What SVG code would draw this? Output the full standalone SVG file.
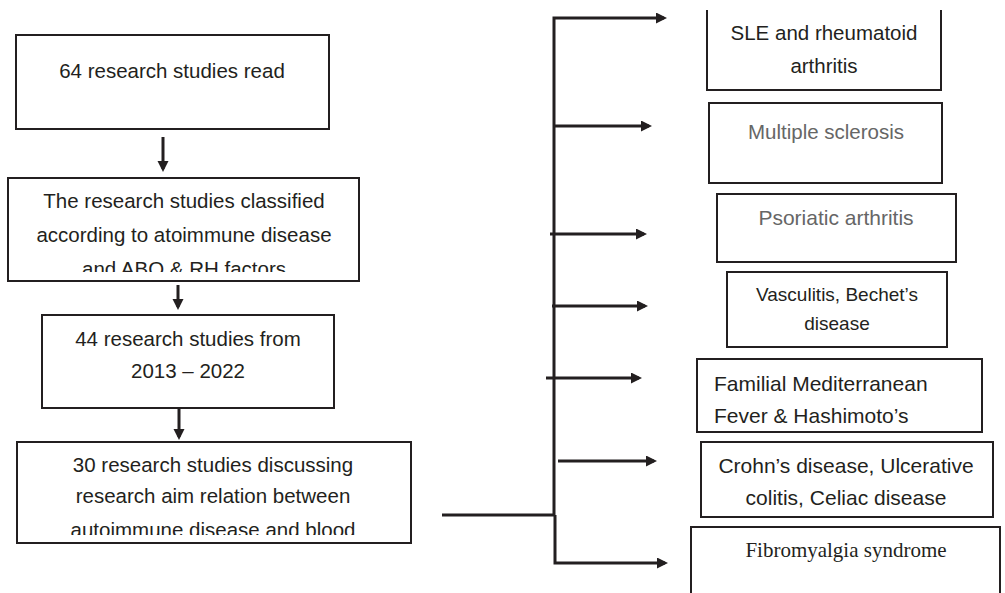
<svg xmlns="http://www.w3.org/2000/svg" width="1005" height="593" viewBox="0 0 1005 593">
<style>
.box{fill:none;stroke:#231f20;stroke-width:2}
.t{font-family:"Liberation Sans",Arial,sans-serif;font-size:20.5px;fill:#231f20}
.c{text-anchor:middle}
.g{fill:#666666}
.serif{font-family:"Liberation Serif","Times New Roman",serif;font-size:21px;fill:#231f20}
.ln{fill:none;stroke:#231f20;stroke-width:3}
.ar{fill:none;stroke:#231f20;stroke-width:3;marker-end:url(#ah)}
</style>
<defs>
<marker id="ah" markerUnits="userSpaceOnUse" markerWidth="12" markerHeight="12" viewBox="0 0 12 12" refX="8" refY="5.5" orient="auto">
<path d="M0,0 L11,5.5 L0,11 z" fill="#231f20"/>
</marker>
<clipPath id="c2"><rect x="0" y="170" width="400" height="102"/></clipPath>
<clipPath id="c4"><rect x="0" y="440" width="420" height="95"/></clipPath>
</defs>
<rect width="1005" height="593" fill="#ffffff"/>
<g id="connectors">
<line class="ar" x1="163" y1="137" x2="163" y2="169"/>
<line class="ar" x1="178" y1="285" x2="178" y2="307"/>
<line class="ar" x1="179" y1="408" x2="179" y2="437"/>
<polyline class="ln" points="442,515 555,515"/>
<polyline class="ar" points="554,515 554,18 664,18"/>
<line class="ar" x1="554" y1="126" x2="649" y2="126"/>
<line class="ar" x1="550" y1="234" x2="644" y2="234"/>
<line class="ar" x1="552" y1="306" x2="645" y2="306"/>
<line class="ar" x1="546" y1="378" x2="639" y2="378"/>
<line class="ar" x1="558" y1="461" x2="654" y2="461"/>
<polyline class="ar" points="555,515 555,563 665,563"/>
</g>
<g id="n1">
<rect class="box" x="16" y="35" width="313" height="94"/>
<text class="t c" x="172" y="78">64 research studies read</text>
</g>
<g id="n2">
<rect class="box" x="8" y="178" width="351" height="103"/>
<g clip-path="url(#c2)">
<text class="t c" x="184" y="208">The research studies classified</text>
<text class="t c" x="184" y="242">according to atoimmune disease</text>
<text class="t c" x="184" y="276">and ABO &amp; RH factors</text>
</g>
</g>
<g id="n3">
<rect class="box" x="42" y="315" width="292" height="93"/>
<text class="t c" x="188" y="346">44 research studies from</text>
<text class="t c" x="188" y="378">2013 – 2022</text>
</g>
<g id="n4">
<rect class="box" x="17" y="442" width="394" height="101"/>
<g clip-path="url(#c4)">
<text class="t c" x="213" y="472">30 research studies discussing</text>
<text class="t c" x="213" y="503">research aim relation between</text>
<text class="t c" x="213" y="537">autoimmune disease and blood</text>
</g>
</g>
<g id="n5">
<path class="box" d="M707,10 V90 H941 V10"/>
<text class="t c" x="824" y="40">SLE and rheumatoid</text>
<text class="t c" x="824" y="73">arthritis</text>
</g>
<g id="n6">
<rect class="box" x="709" y="103" width="233" height="80"/>
<text class="t c g" x="826" y="139">Multiple sclerosis</text>
</g>
<g id="n7">
<rect class="box" x="717" y="194" width="239" height="68"/>
<text class="t c g" x="836" y="225" style="font-size:21px">Psoriatic arthritis</text>
</g>
<g id="n8">
<rect class="box" x="727" y="272" width="220" height="75"/>
<text class="t c" x="837" y="301" style="font-size:19px">Vasculitis, Bechet’s</text>
<text class="t c" x="837" y="330" style="font-size:19px">disease</text>
</g>
<g id="n9">
<rect class="box" x="697" y="359" width="285" height="73"/>
<text class="t" x="714" y="391" style="font-size:21px">Familial Mediterranean</text>
<text class="t" x="714" y="423" style="font-size:21px">Fever &amp; Hashimoto’s</text>
</g>
<g id="n10">
<rect class="box" x="701" y="442" width="292" height="75"/>
<text class="t c" x="846" y="473" style="font-size:21px">Crohn’s disease, Ulcerative</text>
<text class="t c" x="846" y="505" style="font-size:21px">colitis, Celiac disease</text>
</g>
<g id="n11">
<path class="box" d="M691,594 V527 H1000 V594"/>
<text class="serif c" x="846" y="557">Fibromyalgia syndrome</text>
</g>
</svg>
